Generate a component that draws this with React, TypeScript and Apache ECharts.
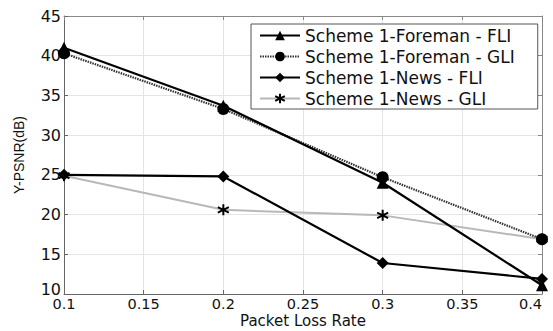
import React, { useEffect, useRef } from "react";
import * as echarts from "echarts";

const xValues = [0.1, 0.2, 0.3, 0.4];
const seriesNames = [
  "Scheme 1-Foreman - FLI",
  "Scheme 1-Foreman - GLI",
  "Scheme 1-News - FLI",
  "Scheme 1-News - GLI",
];
const foremanFLI = [41.0, 33.7, 24.0, 11.1];
const foremanGLI = [40.3, 33.3, 24.7, 16.9];
const newsFLI = [25.0, 24.8, 13.9, 11.9];
const newsGLI = [24.9, 20.6, 19.9, 16.9];

const asterisk = "path://M0,-10L0,10M-8.66,-5L8.66,5M-8.66,5L8.66,-5";

const WIDE = "DejaVu Sans, Verdana, sans-serif";
const ARIAL = "Liberation Sans, Arial, sans-serif";

export default function App() {
  const ref = useRef<HTMLDivElement>(null);
  useEffect(() => {
    if (!ref.current) return;
    const chart = echarts.init(ref.current, undefined, { renderer: "svg" });
    const pair = (arr: number[]) => xValues.map((x, i) => [x, arr[i]]);
    const fmtX = (v: number) => String(Math.round(v * 100) / 100);
    chart.setOption({
      animation: false,
      backgroundColor: "#ffffff",
      grid: { left: 64, right: 11, top: 16, bottom: 37, containLabel: false, outerBoundsMode: "none" },
      legend: {
        orient: "vertical",
        left: 251,
        top: 24,
        padding: [3, 23, 2, 8],
        itemGap: 4,
        itemWidth: 40,
        itemHeight: 12,
        borderColor: "#555",
        borderWidth: 1,
        backgroundColor: "#fff",
        textStyle: { fontFamily: WIDE, fontSize: 17, color: "#111" },
        data: seriesNames,
      },
      xAxis: [
        {
          type: "value",
          min: 0.1,
          max: 0.4,
          interval: 0.05,
          name: "Packet Loss Rate",
          nameLocation: "middle",
          nameGap: 19,
          nameMoveOverlap: false,
          nameTextStyle: { fontFamily: WIDE, fontSize: 15, color: "#111", lineHeight: 15 },
          axisLine: { show: true, lineStyle: { color: "#666" } },
          axisTick: { show: true, inside: true, length: 4, lineStyle: { color: "#666" } },
          axisLabel: {
            fontFamily: WIDE,
            fontSize: 14.5,
            lineHeight: 14,
            color: "#111",
            margin: 3,
            alignMaxLabel: "right",
            formatter: fmtX,
          },
          splitLine: { show: true, lineStyle: { color: "#e4e4e4" } },
        },
        {
          type: "value",
          min: 0.1,
          max: 0.4,
          interval: 0.05,
          position: "top",
          axisLine: { show: true, lineStyle: { color: "#888" } },
          axisTick: { show: true, inside: true, length: 4, lineStyle: { color: "#888" } },
          axisLabel: { show: false },
          splitLine: { show: false },
        },
      ],
      yAxis: [
        {
          type: "value",
          min: 10,
          max: 45,
          interval: 5,
          name: "Y-PSNR(dB)",
          nameLocation: "middle",
          nameGap: 38,
          nameMoveOverlap: false,
          nameTextStyle: { fontFamily: ARIAL, fontSize: 14, color: "#111" },
          axisLine: { show: true, lineStyle: { color: "#666" } },
          axisTick: { show: true, inside: true, length: 4, lineStyle: { color: "#666" } },
          axisLabel: {
            fontFamily: WIDE,
            fontSize: 16,
            color: "#111",
            margin: 3,
            formatter: (v: number) => (v === 10 ? "{low|10}" : String(v)),
            rich: {
              low: { fontFamily: WIDE, fontSize: 16, color: "#111", padding: [0, 0, 10, 0] },
            },
          },
          splitLine: { show: true, lineStyle: { color: "#e4e4e4" } },
        },
        {
          type: "value",
          min: 10,
          max: 45,
          interval: 5,
          position: "right",
          axisLine: { show: true, lineStyle: { color: "#888" } },
          axisTick: { show: true, inside: true, length: 4, lineStyle: { color: "#888" } },
          axisLabel: { show: false },
          splitLine: { show: false },
        },
      ],
      series: [
        {
          name: seriesNames[0],
          type: "line",
          data: pair(foremanFLI),
          symbol: "triangle",
          symbolSize: 12,
          itemStyle: { color: "#000" },
          lineStyle: { color: "#000", width: 2.2 },
          z: 5,
        },
        {
          name: seriesNames[1],
          type: "line",
          data: pair(foremanGLI),
          symbol: "circle",
          symbolSize: 12,
          itemStyle: { color: "#000" },
          lineStyle: { color: "#333", width: 2.2, type: [1.5, 1] },
          z: 4,
        },
        {
          name: seriesNames[2],
          type: "line",
          data: pair(newsFLI),
          symbol: "diamond",
          symbolSize: 12,
          itemStyle: { color: "#000" },
          lineStyle: { color: "#000", width: 2.2 },
          z: 6,
        },
        {
          name: seriesNames[3],
          type: "line",
          data: pair(newsGLI),
          symbol: asterisk,
          symbolSize: 11,
          itemStyle: { color: "#000", borderColor: "#000", borderWidth: 2 },
          lineStyle: { color: "#b8b8b8", width: 2 },
          z: 3,
        },
      ],
    });
    return () => chart.dispose();
  }, []);
  return <div ref={ref} style={{ width: 553, height: 331, position: "absolute", left: 0, top: 0 }} />;
}
